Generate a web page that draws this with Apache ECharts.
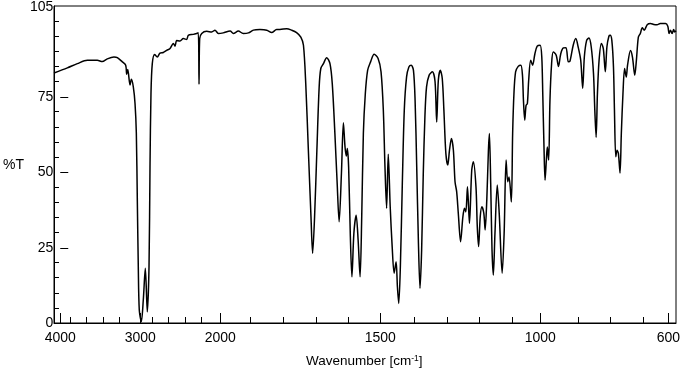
<!DOCTYPE html>
<html>
<head>
<meta charset="utf-8">
<title>IR spectrum</title>
<script src="https://cdn.jsdelivr.net/npm/echarts@6/dist/echarts.min.js"></script>
<style>
  html, body { margin: 0; padding: 0; background: #fff; }
  #main { width: 683px; height: 376px; }
</style>
</head>
<body>
<div id="main"></div>
<script>
// wavenumber (cm-1) and transmittance (%T)
var wavenumbers = [
  4000, 3837, 3715, 3593, 3471, 3410, 3349, 3267, 3226, 3165, 3124, 3112, 3099, 3071, 3055, 3031,
  3010, 2994, 2982, 2970, 2958, 2933, 2909, 2884, 2860, 2839, 2827, 2815, 2799, 2770, 2738, 2705,
  2664, 2623, 2582, 2542, 2521, 2501, 2460, 2420, 2379, 2359, 2298, 2257, 2237, 2228, 2220, 2195,
  2134, 2073, 2033, 1998, 1983, 1962, 1952, 1937, 1922, 1906, 1891, 1871, 1850, 1835, 1820, 1810,
  1789, 1774, 1759, 1746, 1738, 1731, 1723, 1715, 1710, 1704, 1697, 1690, 1685, 1677, 1667, 1657,
  1650, 1642, 1635, 1629, 1622, 1616, 1611, 1607, 1604, 1600, 1595, 1590, 1584, 1577, 1571, 1565,
  1560, 1555, 1549, 1542, 1533, 1522, 1510, 1501, 1494, 1489, 1484, 1479, 1473, 1467, 1461, 1455,
  1451, 1447, 1442, 1436, 1430, 1423, 1416, 1409, 1402, 1397, 1392, 1387, 1382, 1377, 1372, 1367,
  1362, 1354, 1344, 1336, 1331, 1326, 1320, 1314, 1309, 1303, 1297, 1292, 1286, 1280, 1275, 1270,
  1265, 1258, 1251, 1246, 1242, 1237, 1231, 1224, 1219, 1211, 1207, 1203, 1198, 1193, 1187, 1183,
  1178, 1173, 1170, 1166, 1162, 1158, 1153, 1146, 1140, 1131, 1125, 1119, 1114, 1110, 1103, 1099,
  1095, 1090, 1082, 1074, 1069, 1066, 1062, 1058, 1054, 1050, 1044, 1038, 1031, 1024, 1015, 1010,
  1007, 1003, 1000, 996, 993, 989, 985, 980, 975, 966, 959, 952, 944, 936, 929, 924,
  914, 906, 899, 891, 885, 880, 873, 866, 859, 852, 848, 844, 840, 835, 828, 822,
  816, 811, 805, 801, 796, 791, 788, 784, 780, 776, 771, 767, 762, 757, 752, 748,
  739, 733, 726, 721, 715, 709, 703, 697, 688, 678, 668, 658, 648, 632, 625, 621,
  617, 612, 607, 604, 600
];
var transmittance = [
  82.8, 84.5, 85.9, 87.0, 87.0, 86.6, 87.5, 88.1, 87.9, 86.5, 85.4, 82.4, 84.0, 78.8, 80.7, 78.2,
  72.7, 62.9, 40.7, 18.5, 4.3, 0.4, 7.6, 18.1, 3.7, 18.6, 51.7, 76.0, 85.9, 88.9, 88.1, 89.4,
  89.6, 90.3, 90.9, 92.6, 91.7, 93.6, 93.4, 94.2, 93.9, 95.3, 95.6, 95.9, 96.1, 79.1, 94.2, 95.9,
  96.6, 96.4, 97.0, 95.9, 96.1, 96.7, 95.9, 96.7, 95.9, 96.1, 97.0, 97.2, 97.0, 96.2, 97.2, 97.2,
  97.5, 97.0, 96.2, 94.7, 92.0, 79.3, 57.2, 35.2, 23.1, 35.2, 57.2, 78.2, 84.3, 85.9, 87.9, 85.9,
  79.3, 62.8, 46.2, 33.5, 49.5, 66.3, 58.3, 55.3, 57.8, 51.7, 29.7, 15.3, 29.7, 35.7, 27.5, 15.3,
  35.2, 62.8, 76.0, 83.7, 86.5, 89.0, 87.6, 83.2, 70.5, 51.7, 38.0, 55.9, 38.5, 25.3, 16.5, 20.3,
  12.0, 6.5, 18.6, 46.2, 70.5, 81.5, 84.8, 85.4, 83.7, 73.8, 51.7, 27.5, 11.5, 24.2, 49.5, 68.3,
  78.2, 82.1, 83.2, 79.9, 66.6, 80.4, 83.7, 81.0, 70.5, 56.2, 52.3, 57.2, 61.1, 57.2, 46.8, 43.5,
  36.3, 26.9, 35.2, 38.0, 36.8, 45.1, 33.0, 50.6, 53.4, 45.1, 31.9, 25.3, 35.2, 38.5, 36.3, 30.8,
  40.7, 57.2, 62.8, 46.2, 24.2, 15.9, 29.7, 45.7, 36.3, 16.5, 29.7, 54.0, 46.8, 48.4, 40.1, 62.8,
  76.0, 83.2, 85.0, 85.4, 82.1, 73.8, 67.2, 72.1, 72.7, 80.4, 87.0, 85.4, 89.2, 91.7, 92.0, 88.1,
  76.0, 57.2, 47.3, 54.0, 58.3, 54.0, 73.8, 85.9, 89.8, 88.7, 85.0, 89.2, 91.1, 91.2, 86.5, 86.7,
  92.0, 94.2, 91.5, 87.0, 77.7, 88.1, 93.6, 94.4, 91.5, 82.6, 70.5, 61.5, 76.0, 87.0, 92.6, 90.9,
  83.2, 91.5, 95.0, 95.3, 93.6, 84.8, 70.5, 55.1, 57.2, 56.2, 49.7, 62.8, 76.0, 84.3, 81.5, 85.4,
  90.3, 88.1, 82.1, 87.0, 94.7, 95.9, 97.8, 97.0, 98.8, 99.2, 98.9, 98.8, 99.2, 99.2, 98.3, 95.9,
  97.0, 95.9, 97.2, 96.4, 96.8
];

// tick marks and labels
var xLabelValues = [4000, 3000, 2000, 1500, 1000, 600];
var xMinorTicks = [3800, 3600, 3400, 3200, 2800, 2600, 2400, 2200,
                   1900, 1800, 1700, 1600, 1400, 1300, 1200, 1100, 900, 800, 700];
var yLabelValues = [0, 25, 50, 75, 105];
var yMinorTicks = [5, 10, 15, 20, 30, 35, 40, 45, 55, 60, 65, 70, 80, 85, 90, 95, 100];

// split wavenumber scale: 4000-2000 compressed 4x, 2000-600 expanded
function toAxis(w) {
  return w >= 2000 ? (4000 - w) / 4 : 500 + (2000 - w);
}
function fromAxis(u) {
  return u <= 500 ? 4000 - u * 4 : 2000 - (u - 500);
}

var points = wavenumbers.map(function (w, i) { return [toAxis(w), transmittance[i]]; });

var fontFamily = 'Liberation Sans, Arial, sans-serif';
var gridRect = { left: 54, right: 7, top: 6, bottom: 53 };

var chart = echarts.init(document.getElementById('main'));
chart.setOption({
  animation: false,
  backgroundColor: '#fff',
  textStyle: { fontFamily: fontFamily, color: '#000' },
  grid: [
    Object.assign({ show: true, borderColor: '#000', borderWidth: 1, backgroundColor: 'transparent' }, gridRect),
    Object.assign({ show: false }, gridRect)
  ],
  xAxis: [
    {
      gridIndex: 0, type: 'value', min: 0, max: 1900,
      axisLine: { show: true, lineStyle: { color: '#000', width: 1 } },
      axisTick: { show: true, inside: true, length: 6, lineStyle: { color: '#000' },
        customValues: xMinorTicks.map(toAxis) },
      axisLabel: { show: false },
      splitLine: { show: false }
    },
    {
      gridIndex: 1, type: 'value', min: 0, max: 1900,
      axisLine: { show: false },
      axisTick: { show: true, inside: true, length: 10, lineStyle: { color: '#000' },
        customValues: xLabelValues.map(toAxis) },
      axisLabel: { show: true, color: '#000', fontSize: 14, fontFamily: fontFamily, margin: 8,
        customValues: xLabelValues.map(toAxis),
        formatter: function (v) { return String(Math.round(fromAxis(v))); } },
      splitLine: { show: false },
      name: 'Wavenumber [cm{sup|-1}]',
      nameLocation: 'middle',
      nameGap: 31,
      nameTextStyle: {
        color: '#000', fontSize: 13.5, fontFamily: fontFamily,
        rich: { sup: { fontSize: 8.5, verticalAlign: 'top', lineHeight: 10, padding: [0, 0, 6, 0], fontFamily: fontFamily } }
      }
    }
  ],
  yAxis: [
    {
      gridIndex: 0, type: 'value', min: 0, max: 105,
      axisLine: { show: true, lineStyle: { color: '#000', width: 1 } },
      axisTick: { show: true, inside: true, length: 5, lineStyle: { color: '#000' },
        customValues: yMinorTicks },
      axisLabel: { show: false },
      splitLine: { show: false }
    },
    {
      gridIndex: 1, type: 'value', min: 0, max: 105,
      axisLine: { show: false },
      axisTick: { show: true, inside: true, length: 8, lineStyle: { color: '#000' },
        customValues: [0, 25, 50, 75] },
      axisLabel: { show: true, color: '#000', fontSize: 14, fontFamily: fontFamily, margin: 7,
        customValues: yLabelValues },
      splitLine: { show: false },
      name: '%T',
      nameLocation: 'middle',
      nameRotate: 0,
      nameGap: 26,
      nameTextStyle: { color: '#000', fontSize: 14, fontFamily: fontFamily }
    }
  ],
  series: [{
    type: 'line',
    xAxisIndex: 0,
    yAxisIndex: 0,
    data: points,
    showSymbol: false,
    smooth: 0.3,
    lineStyle: { color: '#000', width: 1.5 },
    clip: true
  }]
});
</script>
</body>
</html>
